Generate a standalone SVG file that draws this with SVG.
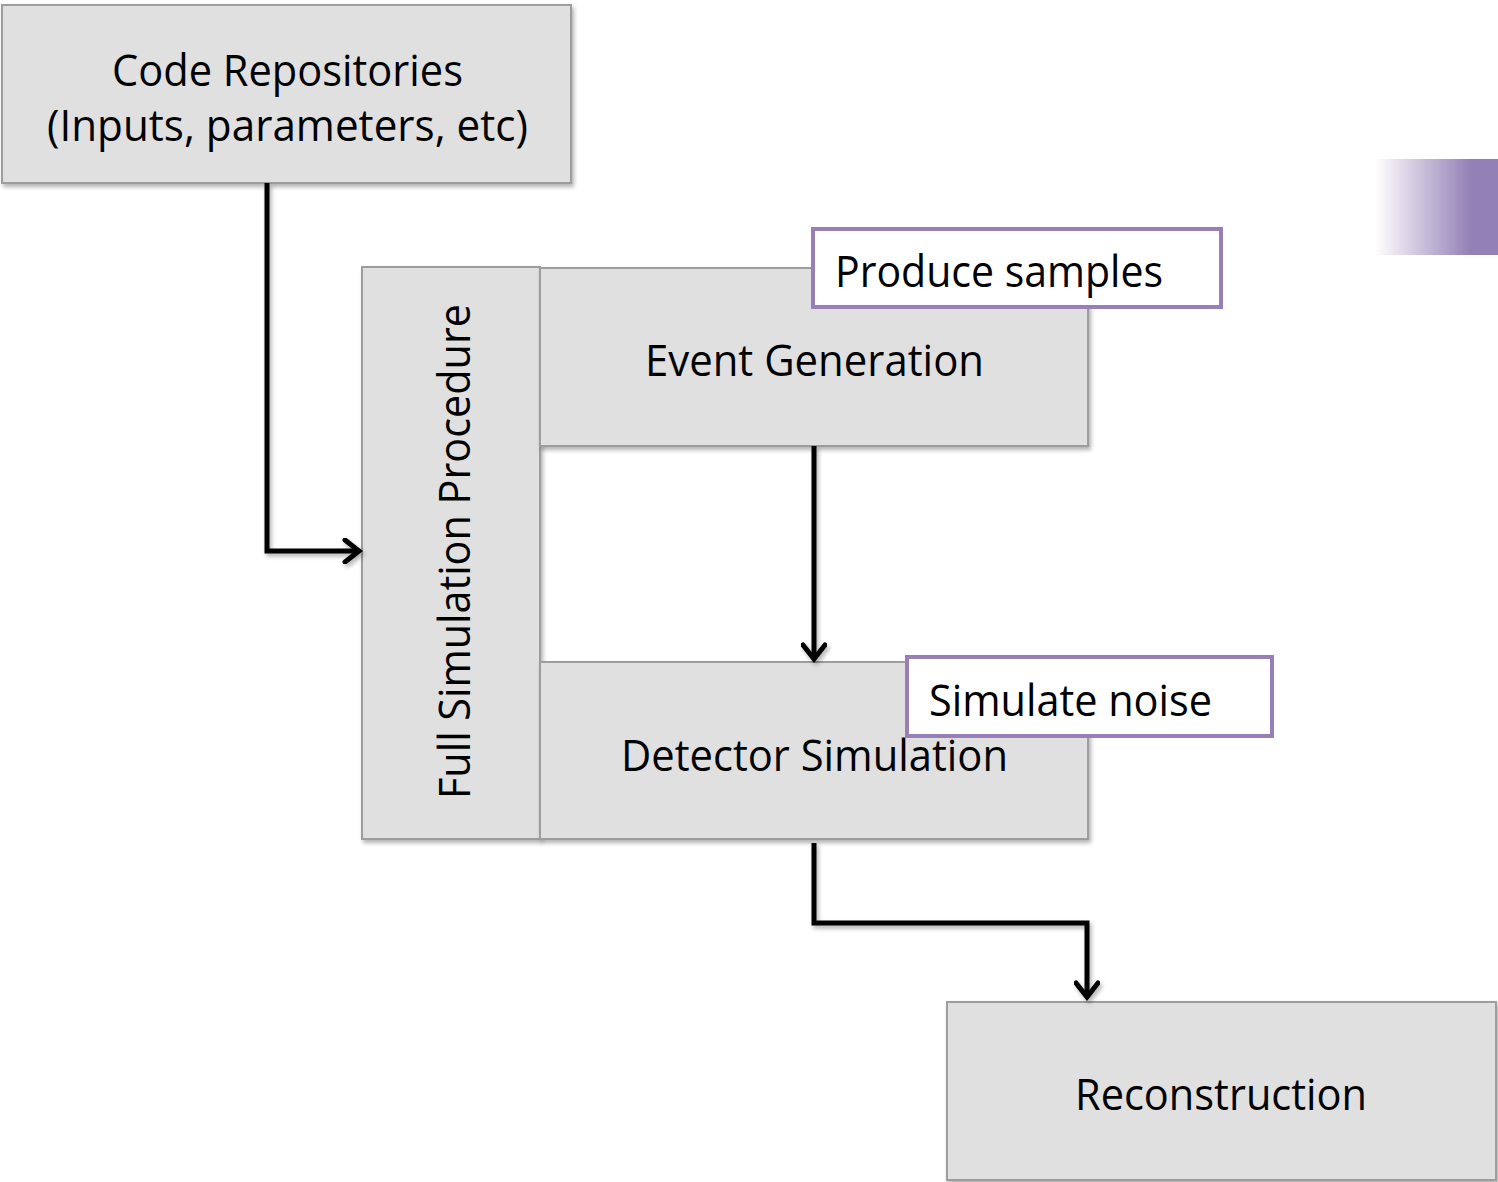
<svg xmlns="http://www.w3.org/2000/svg" width="1498" height="1182" viewBox="0 0 1498 1182">
  <defs>
    <style>
      .box { fill: #e0e0e0; stroke: #9d9d9d; stroke-width: 2; }
      .note { fill: #ffffff; stroke: #9880b6; stroke-width: 4; }
      .lbl { font-family: "Open Sans", "Noto Sans", "Liberation Sans", sans-serif; font-size: 43px; fill: #000000; }
      .wire { fill: none; stroke: #000000; stroke-width: 5; stroke-linejoin: miter; }
    </style>
    <filter id="shade" x="-5%" y="-5%" width="112%" height="115%">
      <feDropShadow dx="2" dy="3" stdDeviation="2" flood-color="#000000" flood-opacity="0.3"/>
    </filter>
    <marker id="arrow" viewBox="0 0 22 26" refX="18" refY="13" markerWidth="22" markerHeight="26" markerUnits="userSpaceOnUse" orient="auto">
      <polyline points="4,2 18,13 4,24" fill="none" stroke="#000000" stroke-width="5" stroke-linecap="round" stroke-linejoin="miter"/>
    </marker>
    <linearGradient id="tab" x1="0" y1="0" x2="1" y2="0">
      <stop offset="0" stop-color="#9380b6" stop-opacity="0"/>
      <stop offset="0.78" stop-color="#9380b6" stop-opacity="1"/>
      <stop offset="1" stop-color="#9380b6" stop-opacity="1"/>
    </linearGradient>
  </defs>

  <rect width="1498" height="1182" fill="#ffffff"/>

  <!-- accent tab on the right edge -->
  <rect x="1375" y="159" width="123" height="96" fill="url(#tab)"/>

  <g id="node-code-repositories">
    <rect class="box" x="2" y="5" width="569" height="178" filter="url(#shade)"/>
    <text class="lbl" x="112" y="86" textLength="351" lengthAdjust="spacingAndGlyphs">Code Repositories</text>
    <text class="lbl" x="47" y="141" textLength="481" lengthAdjust="spacingAndGlyphs">(Inputs, parameters, etc)</text>
  </g>

  <g id="node-full-simulation">
    <rect class="box" x="362" y="267" width="178" height="572" filter="url(#shade)"/>
    <text class="lbl" transform="translate(470 552) rotate(-90)" x="-247" y="0" textLength="495" lengthAdjust="spacingAndGlyphs">Full Simulation Procedure</text>
  </g>

  <g id="node-event-generation">
    <rect class="box" x="540" y="268" width="548" height="178" filter="url(#shade)"/>
    <text class="lbl" x="645" y="376" textLength="339" lengthAdjust="spacingAndGlyphs">Event Generation</text>
  </g>

  <g id="note-produce-samples">
    <rect class="note" x="813" y="229" width="408" height="78"/>
    <text class="lbl" x="835" y="287" textLength="328" lengthAdjust="spacingAndGlyphs">Produce samples</text>
  </g>

  <g id="node-detector-simulation">
    <rect class="box" x="540" y="662" width="548" height="177" filter="url(#shade)"/>
    <text class="lbl" x="621" y="771" textLength="387" lengthAdjust="spacingAndGlyphs">Detector Simulation</text>
  </g>

  <g id="note-simulate-noise">
    <rect class="note" x="907" y="657" width="365" height="79"/>
    <text class="lbl" x="929" y="716" textLength="283" lengthAdjust="spacingAndGlyphs">Simulate noise</text>
  </g>

  <g id="node-reconstruction">
    <rect class="box" x="947" y="1002" width="549" height="178" filter="url(#shade)"/>
    <text class="lbl" x="1075" y="1110" textLength="292" lengthAdjust="spacingAndGlyphs">Reconstruction</text>
  </g>

  <g id="connectors" filter="url(#shade)">
    <path class="wire" d="M267 183 V551 H359" marker-end="url(#arrow)"/>
    <path class="wire" d="M814 446 V659" marker-end="url(#arrow)"/>
    <path class="wire" d="M814 843 V923 H1087 V997" marker-end="url(#arrow)"/>
  </g>
</svg>
